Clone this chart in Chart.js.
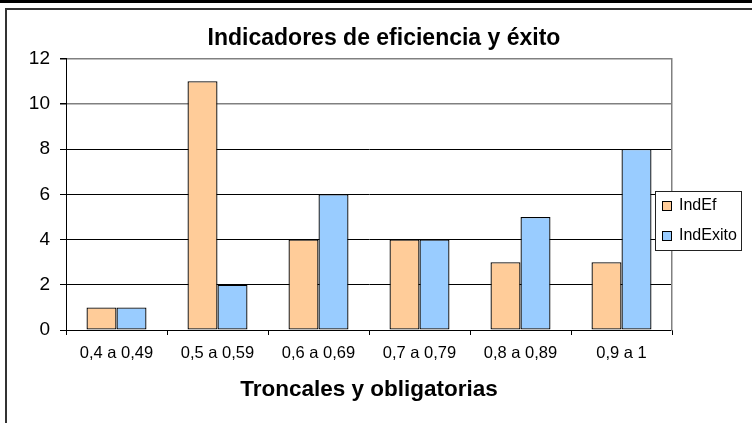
<!DOCTYPE html>
<html>
<head>
<meta charset="utf-8">
<script src="https://cdn.jsdelivr.net/npm/chart.js@4.4.1/dist/chart.umd.min.js"></script>
<style>
  html, body { margin: 0; padding: 0; background: #fff; }
  #wrap { width: 752px; height: 423px; position: relative; }
</style>
</head>
<body>
<div id="wrap"><canvas id="chart"></canvas></div>
<script>
// datos
const categorias = ['0,4 a 0,49', '0,5 a 0,59', '0,6 a 0,69', '0,7 a 0,79', '0,8 a 0,89', '0,9 a 1'];
const indEf = [1, 11, 4, 4, 3, 3];
const indExito = [1, 2, 6, 4, 5, 8];
const ticksY = [0, 2, 4, 6, 8, 10, 12];

const FONT = "'Liberation Sans', Arial, sans-serif";

// marco de la hoja y leyenda dentro del area
const marco = {
    id: 'marco',
    beforeDraw(chart) {
        const c = chart.ctx;
        c.save();
        c.fillStyle = '#fff';
        c.fillRect(0, 0, chart.width, chart.height);
        c.fillStyle = '#000';
        c.fillRect(0, 0, chart.width, 3);
        c.strokeStyle = '#333';
        c.lineWidth = 2;
        c.beginPath();
        c.moveTo(6, chart.height);
        c.lineTo(6, 9);
        c.lineTo(chart.width, 9);
        c.stroke();
        c.restore();
    },
    afterDraw(chart) {
        const c = chart.ctx;
        const x = 655.5, y = 191.5, w = 86, h = 59;
        c.save();
        c.fillStyle = '#fff';
        c.fillRect(x, y, w, h);
        c.strokeStyle = '#222';
        c.lineWidth = 1;
        c.strokeRect(x, y, w, h);
        c.font = '16px ' + FONT;
        c.textBaseline = 'middle';
        chart.data.datasets.forEach((ds, i) => {
            const yy = 206 + i * 30;
            c.fillStyle = ds.backgroundColor;
            c.fillRect(662.5, yy - 4.5, 9, 9);
            c.strokeStyle = '#000';
            c.strokeRect(662.5, yy - 4.5, 9, 9);
            c.fillStyle = '#000';
            c.fillText(ds.label, 679, yy);
        });
        c.restore();
    }
};

new Chart(document.getElementById('chart'), {
    type: 'bar',
    data: {
        labels: categorias,
        datasets: [
            {label: 'IndEf', data: indEf, backgroundColor: '#FFCC99', borderColor: '#000', borderWidth: 1.3, borderSkipped: false},
            {label: 'IndExito', data: indExito, backgroundColor: '#99CCFF', borderColor: '#000', borderWidth: 1.3, borderSkipped: false}
        ]
    },
    options: {
        responsive: true,
        maintainAspectRatio: false,
        animation: false,
        layout: {padding: {left: 16, right: 0, top: 0, bottom: 0}},
        datasets: {bar: {categoryPercentage: 0.594, barPercentage: 1}},
        plugins: {
            legend: {display: false},
            tooltip: {enabled: false},
            title: {
                display: true,
                text: 'Indicadores de eficiencia y éxito',
                color: '#000',
                font: {family: FONT, size: 23, weight: 'bold'},
                padding: {top: 25, bottom: 6}
            }
        },
        scales: {
            x: {
                grid: {drawOnChartArea: false, drawTicks: true, tickLength: 5, color: '#000'},
                border: {color: '#000', width: 1},
                ticks: {color: '#000', font: {family: FONT, size: 16.5}, padding: 9, maxRotation: 0, autoSkip: false},
                title: {display: true, text: 'Troncales y obligatorias', color: '#000',
                        font: {family: FONT, size: 22.5, weight: 'bold'}, padding: {bottom: 20}},
                afterFit(s) { s.height = 93; }
            },
            y: {
                min: 0, max: 12,
                afterBuildTicks(s) { s.ticks = ticksY.map(v => ({value: v})); },
                grid: {
                    color: ctx => (ctx.tick && ctx.tick.value >= 10) ? '#808080' : '#000',
                    lineWidth: ctx => (ctx.tick && ctx.tick.value >= 10) ? 1.5 : 1,
                    tickColor: '#000', tickLength: 6
                },
                border: {color: '#000', width: 1},
                ticks: {color: '#000', font: {family: FONT, size: 19}, padding: 10},
                afterFit(s) { s.width = 50; }
            },
            y2: {
                position: 'right',
                display: true,
                grid: {display: false},
                border: {display: true, color: '#808080', width: 1.5},
                ticks: {display: false},
                afterFit(s) { s.width = 80; }
            }
        }
    },
    plugins: [marco]
});
</script>
</body>
</html>
